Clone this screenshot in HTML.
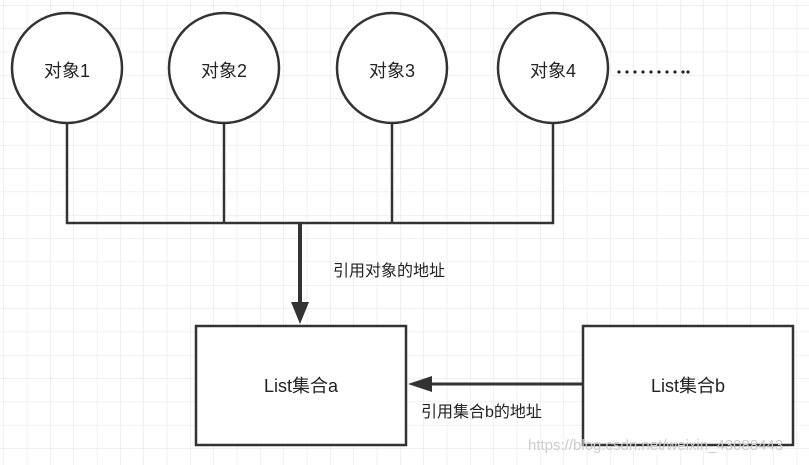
<!DOCTYPE html>
<html><head><meta charset="utf-8"><style>
html,body{margin:0;padding:0;background:#fff;}
svg{display:block;}
text{font-family:"Liberation Sans","Noto Sans CJK SC",sans-serif;fill:#222;}
</style></head><body>
<svg width="809" height="465" viewBox="0 0 809 465" xmlns="http://www.w3.org/2000/svg">
<defs>
<pattern id="g" x="3.5" y="5" width="23.33" height="23.33" patternUnits="userSpaceOnUse">
<path d="M0 0H23.33M0 0V23.33" stroke="#e2e2e2" stroke-width="1" fill="none"/>
</pattern>
</defs>
<rect width="809" height="465" fill="url(#g)"/>
<g stroke="#333" stroke-width="2.5" fill="#fff">
<circle cx="67" cy="68" r="55"/>
<circle cx="224" cy="68" r="55"/>
<circle cx="392" cy="68" r="55"/>
<circle cx="553" cy="68" r="55"/>
<path d="M67 123V223H553V123M224 123V223M392 123V223" fill="none"/>
<rect x="196" y="326" width="210" height="119"/>
<rect x="583" y="326" width="210" height="119"/>
</g>
<path d="M300 223V305" stroke="#333" stroke-width="4"/>
<polygon points="291,302 309,302 300,324" fill="#333"/>
<path d="M583 384H428" stroke="#333" stroke-width="3"/>
<polygon points="408,384 432,376 432,392" fill="#333"/>
<g font-size="18" text-anchor="middle">
<text x="67" y="77">对象1</text>
<text x="224" y="77">对象2</text>
<text x="392" y="77">对象3</text>
<text x="553" y="77">对象4</text>
<text x="301" y="392">List集合a</text>
<text x="688" y="392">List集合b</text>
</g>
<g fill="#222">
<circle cx="619" cy="72" r="1.6"/><circle cx="627" cy="72" r="1.6"/><circle cx="635" cy="72" r="1.6"/><circle cx="643" cy="72" r="1.6"/><circle cx="651" cy="72" r="1.6"/><circle cx="659" cy="72" r="1.6"/><circle cx="667" cy="72" r="1.6"/><circle cx="675" cy="72" r="1.6"/><circle cx="683" cy="72" r="1.6"/><circle cx="688" cy="72" r="1.6"/>
</g>
<text x="333" y="276" font-size="16">引用对象的地址</text>
<text x="421" y="417" font-size="16">引用集合b的地址</text>
<text x="528" y="450" font-size="15" style="fill:#ccc">https://blog.csdn.net/weixin_43088443</text>
</svg>
</body></html>
